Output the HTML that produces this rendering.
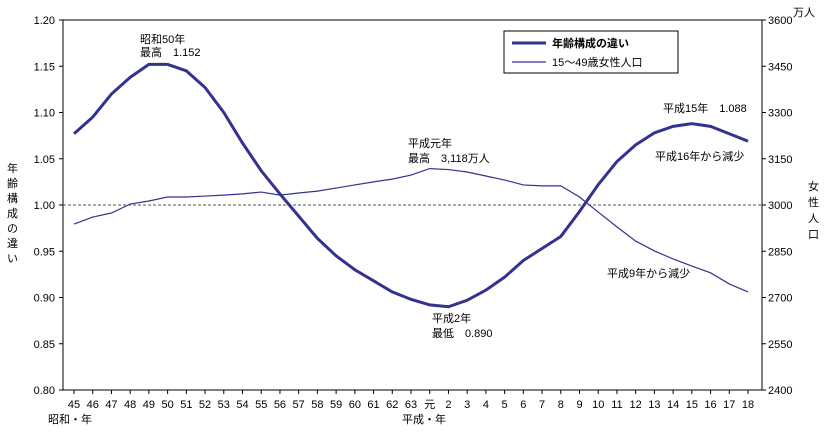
<!DOCTYPE html>
<html><head><meta charset="utf-8"><style>
body{margin:0;background:#fff;}
svg text{font-family:"Liberation Sans","Noto Sans CJK JP",sans-serif;font-size:11px;fill:#000;}
</style></head><body>
<svg width="827" height="436" viewBox="0 0 827 436">
<g id="axes"></g><g id="marks"></g><g id="labels"></g>
</svg>
<script>
const categories=["45","46","47","48","49","50","51","52","53","54","55","56","57","58","59","60","61","62","63","元","2","3","4","5","6","7","8","9","10","11","12","13","14","15","16","17","18"];
const ratioValues=[1.077,1.095,1.12,1.138,1.152,1.152,1.145,1.127,1.10,1.067,1.037,1.012,0.988,0.964,0.945,0.93,0.918,0.906,0.898,0.892,0.890,0.897,0.908,0.922,0.94,0.953,0.966,0.993,1.022,1.047,1.065,1.078,1.085,1.088,1.085,1.077,1.069];
const popValues=[2938,2961,2974,3003,3013,3026,3026,3029,3032,3036,3042,3032,3039,3045,3055,3065,3075,3084,3097,3118,3115,3107,3094,3081,3065,3062,3062,3026,2977,2929,2883,2851,2825,2802,2780,2744,2718];
const leftTicks=["0.80","0.85","0.90","0.95","1.00","1.05","1.10","1.15","1.20"];
const rightTicks=["2400","2550","2700","2850","3000","3150","3300","3450","3600"];
const NS="http://www.w3.org/2000/svg";
const X0=63,X1=762,Y0=20,Y1=390;
const xs=i=>74+i*(748-74)/(categories.length-1);
const yL=v=>Y1-(v-0.8)/0.4*(Y1-Y0);
const yR=v=>Y1-(v-2400)/1200*(Y1-Y0);
function mk(tag,attrs,parent,text){const e=document.createElementNS(NS,tag);for(const k in attrs)e.setAttribute(k,attrs[k]);if(text!==undefined)e.textContent=text;parent.appendChild(e);return e;}
const ax=document.getElementById('axes'),mg=document.getElementById('marks'),lb=document.getElementById('labels');
const frame=mk('rect',{x:X0,y:Y0,width:X1-X0,height:Y1-Y0,fill:'none',stroke:'#000','stroke-width':1},ax);


const ref=mk('line',{x1:X0,x2:X1,y1:yL(1),y2:yL(1),stroke:'#555','stroke-dasharray':'3,2'},ax);


leftTicks.forEach(t=>{const y=yL(parseFloat(t));
mk('line',{x1:X0-4,x2:X0,y1:y,y2:y,stroke:'#000'},ax);
const e=mk('text',{x:X0-8,y:y+4,'text-anchor':'end'},ax,t);

});
rightTicks.forEach(t=>{const y=yR(parseFloat(t));
mk('line',{x1:X1,x2:X1+4,y1:y,y2:y,stroke:'#000'},ax);
const e=mk('text',{x:X1+6,y:y+4},ax,t);

});
categories.forEach((c,i)=>{const x=xs(i);
mk('line',{x1:x,x2:x,y1:Y1,y2:Y1+4,stroke:'#000'},ax);
const e=mk('text',{x:x,y:408,'text-anchor':'middle'},ax,c);

});
const p1=mk('polyline',{points:ratioValues.map((v,i)=>xs(i)+','+yL(v)).join(' '),fill:'none',stroke:'#33338f','stroke-width':3},mg);


const p2=mk('polyline',{points:popValues.map((v,i)=>xs(i)+','+yR(v)).join(' '),fill:'none',stroke:'#33338f','stroke-width':1.2},mg);


</script>
<svg style="position:absolute;left:0;top:0" width="827" height="436">
<text x="140" y="43">昭和50年</text>
<text x="140" y="56">最高　1.152</text>
<text x="408" y="147">平成元年</text>
<text x="408" y="162">最高　3,118万人</text>
<text x="432" y="322">平成2年</text>
<text x="432" y="337">最低　0.890</text>
<text x="663" y="112">平成15年　1.088</text>
<text x="655" y="160">平成16年から減少</text>
<text x="607" y="277">平成9年から減少</text>
<text x="48" y="423">昭和・年</text>
<text x="402" y="423">平成・年</text>
<text x="793" y="16">万人</text>
<g><text x="7" y="172">年</text><text x="7" y="187">齢</text><text x="7" y="202">構</text><text x="7" y="217">成</text><text x="7" y="232">の</text><text x="7" y="247">違</text><text x="7" y="262">い</text></g>
<g><text x="808" y="190">女</text><text x="808" y="206">性</text><text x="808" y="222">人</text><text x="808" y="238">口</text></g>
<g>
<rect x="504" y="31" width="174" height="42" fill="#fff" stroke="#000"/>
<line x1="512" y1="43" x2="546" y2="43" stroke="#33338f" stroke-width="3"/>
<text x="552" y="47" font-weight="bold">年齢構成の違い</text>
<line x1="512" y1="62" x2="546" y2="62" stroke="#33338f" stroke-width="1.2"/>
<text x="552" y="66">15～49歳女性人口</text>
</g>
</svg>
</body></html>
